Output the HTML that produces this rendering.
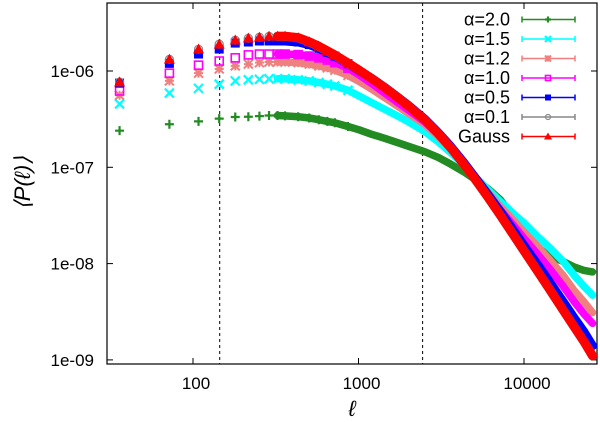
<!DOCTYPE html>
<html><head><meta charset="utf-8"><style>
html,body{margin:0;padding:0;background:#fff}
svg{display:block}
text{font-family:"Liberation Sans",sans-serif}
</style></head><body>
<svg id="chart" width="600" height="422" viewBox="0 0 600 422"></svg>
<script>
const ells=[36,72,108,144,180,216,252,288,324,360,432,504,576,648,720,864,1008,1200,1440,1728,2016,2520,3024,3600,4320,5040,6048,7200,8640,10080,12096,14400,17280,20160,23040,25920];
const alpha20=[2.4e-7,2.8e-7,3.0e-7,3.2e-7,3.33e-7,3.35e-7,3.4e-7,3.45e-7,3.45e-7,3.42e-7,3.35e-7,3.25e-7,3.12e-7,3.0e-7,2.9e-7,2.65e-7,2.45e-7,2.2e-7,2.0e-7,1.8e-7,1.65e-7,1.45e-7,1.27e-7,1.08e-7,9.0e-8,7.5e-8,6.0e-8,4.6e-8,3.0e-8,2.0e-8,1.45e-8,1.2e-8,1.05e-8,9.2e-9,8.5e-9,8.2e-9];
const alpha15=[4.55e-7,5.9e-7,6.6e-7,7.3e-7,7.9e-7,8.1e-7,8.2e-7,8.3e-7,8.3e-7,8.3e-7,8.1e-7,7.9e-7,7.6e-7,7.3e-7,7.0e-7,6.3e-7,5.5e-7,4.7e-7,4.0e-7,3.4e-7,2.95e-7,2.35e-7,1.85e-7,1.42e-7,1.07e-7,8.0e-8,5.9e-8,4.4e-8,3.3e-8,2.6e-8,1.9e-8,1.45e-8,1.05e-8,7.5e-9,5.8e-9,4.7e-9];
const alpha12=[5.6e-7,7.9e-7,9.5e-7,1.05e-6,1.13e-6,1.18e-6,1.22e-6,1.24e-6,1.24e-6,1.24e-6,1.22e-6,1.18e-6,1.13e-6,1.08e-6,1.02e-6,9.0e-7,7.8e-7,6.5e-7,5.3e-7,4.3e-7,3.6e-7,2.8e-7,2.1e-7,1.55e-7,1.1e-7,7.9e-8,5.5e-8,3.9e-8,2.8e-8,2.1e-8,1.5e-8,1.08e-8,7.5e-9,5.2e-9,4.0e-9,3.1e-9];
const alpha10=[6.2e-7,9.5e-7,1.15e-6,1.27e-6,1.37e-6,1.47e-6,1.5e-6,1.5e-6,1.5e-6,1.5e-6,1.48e-6,1.43e-6,1.37e-6,1.3e-6,1.22e-6,1.07e-6,9.1e-7,7.4e-7,5.9e-7,4.7e-7,3.9e-7,2.95e-7,2.2e-7,1.6e-7,1.12e-7,8.0e-8,5.3e-8,3.6e-8,2.5e-8,1.8e-8,1.25e-8,8.7e-9,5.8e-9,4.0e-9,3.0e-9,2.4e-9];
const alpha05=[7.5e-7,1.2e-6,1.5e-6,1.69e-6,1.95e-6,2.0e-6,2.05e-6,2.05e-6,2.05e-6,2.05e-6,2.0e-6,1.88e-6,1.72e-6,1.56e-6,1.43e-6,1.19e-6,1.01e-6,8.4e-7,6.75e-7,5.35e-7,4.35e-7,3.15e-7,2.3e-7,1.65e-7,1.12e-7,7.9e-8,5.2e-8,3.45e-8,2.2e-8,1.5e-8,9.7e-9,6.3e-9,4.0e-9,2.7e-9,1.95e-9,1.4e-9];
const alpha01=[7.7e-7,1.32e-6,1.68e-6,1.9e-6,2.09e-6,2.19e-6,2.24e-6,2.29e-6,2.29e-6,2.29e-6,2.21e-6,2.0e-6,1.8e-6,1.61e-6,1.46e-6,1.2e-6,1.02e-6,8.35e-7,6.7e-7,5.3e-7,4.3e-7,3.1e-7,2.25e-7,1.6e-7,1.08e-7,7.6e-8,4.9e-8,3.17e-8,1.98e-8,1.33e-8,8.3e-9,5.3e-9,3.27e-9,2.19e-9,1.55e-9,1.12e-9];
const gauss=[7.7e-7,1.33e-6,1.69e-6,1.9e-6,2.1e-6,2.2e-6,2.25e-6,2.3e-6,2.3e-6,2.3e-6,2.22e-6,2.01e-6,1.81e-6,1.62e-6,1.47e-6,1.21e-6,1.02e-6,8.36e-7,6.7e-7,5.3e-7,4.3e-7,3.1e-7,2.25e-7,1.6e-7,1.08e-7,7.6e-8,4.9e-8,3.17e-8,1.98e-8,1.33e-8,8.3e-9,5.3e-9,3.27e-9,2.19e-9,1.55e-9,1.1e-9];
const xTicks=[100,1000,10000];
const xTickLabels=["100","1000","10000"];
const yTicks=[1e-6,1e-7,1e-8,1e-9];
const yTickLabels=["1e-06","1e-07","1e-08","1e-09"];
const vLines=[145,2440];
const seriesNames=["α=2.0","α=1.5","α=1.2","α=1.0","α=0.5","α=0.1","Gauss"];

const L=107,R=597,T=3,B=364;
function xs(v){return 193+(Math.log10(v)-2)*165.5;}
function ys(v){return 71-(Math.log10(v)+6)*96.3;}
const NS="http://www.w3.org/2000/svg";
const svg=document.getElementById('chart');
function mk(tag,attrs,parent){const e=document.createElementNS(NS,tag);for(const k in attrs)e.setAttribute(k,attrs[k]);(parent||svg).appendChild(e);return e;}

const frame=mk('rect',{x:L,y:T,width:R-L,height:B-T,fill:'none',stroke:'#000','stroke-width':1.2});



xTicks.forEach((t,i)=>{const x=xs(t);
 const a=mk('line',{x1:x,y1:B,x2:x,y2:B-6,stroke:'#000'});
 
 
 const b=mk('line',{x1:x,y1:T,x2:x,y2:T+6,stroke:'#000'});
 
 
 const tx=mk('text',{x:x+3,y:389,'text-anchor':'middle','font-size':17});
 tx.textContent=xTickLabels[i];
 
 
});
yTicks.forEach((t,i)=>{const y=ys(t);
 const a=mk('line',{x1:L,y1:y,x2:L+6,y2:y,stroke:'#000'});
 
 
 const b=mk('line',{x1:R,y1:y,x2:R-6,y2:y,stroke:'#000'});
 
 
 const tx=mk('text',{x:94,y:y+6,'text-anchor':'end','font-size':17});
 tx.textContent=yTickLabels[i];
 
 
});
vLines.forEach(v=>{const x=xs(v);
 const l=mk('line',{x1:x,y1:T,x2:x,y2:B,stroke:'#000','stroke-width':1,'stroke-dasharray':'3,3'});
 
 
});

const colors=['#228b22','#00ffff','#f08080','#ff00ff','#0000ff','#888888','#ff0000'];
const datas=[alpha20,alpha15,alpha12,alpha10,alpha05,alpha01,gauss];
const kinds=['plus','x','star','sq','fsq','circ','tri'];
function marker(g,kind,x,y,c,s){
 s=s||4;
 if(kind==='plus'){mk('path',{d:`M${x-s} ${y}H${x+s}M${x} ${y-s}V${y+s}`,stroke:c,'stroke-width':2.2},g);}
 else if(kind==='x'){mk('path',{d:`M${x-s} ${y-s}L${x+s} ${y+s}M${x-s} ${y+s}L${x+s} ${y-s}`,stroke:c,'stroke-width':2.2},g);}
 else if(kind==='star'){mk('path',{d:`M${x-s} ${y-s}L${x+s} ${y+s}M${x-s} ${y+s}L${x+s} ${y-s}M${x-s} ${y}H${x+s}M${x} ${y-s}V${y+s}`,stroke:c,'stroke-width':2},g);}
 else if(kind==='sq'){mk('rect',{x:x-s+0.5,y:y-s+0.5,width:2*s-1,height:2*s-1,fill:'none',stroke:c,'stroke-width':1.6},g);}
 else if(kind==='fsq'){mk('rect',{x:x-s,y:y-s,width:2*s,height:2*s,fill:c},g);}
 else if(kind==='circ'){mk('circle',{cx:x,cy:y,r:s-0.5,fill:'none',stroke:c,'stroke-width':1.2},g);}
 else {mk('path',{d:`M${x} ${y-s-1}L${x+s+1} ${y+s}L${x-s-1} ${y+s}Z`,fill:c},g);}
}
datas.forEach((d,si)=>{
 const g=mk('g',{});
 
 
 const pts=[];
 for(let i=8;i<ells.length;i++)pts.push(xs(ells[i]).toFixed(1)+','+ys(d[i]).toFixed(1));
 mk('polyline',{points:pts.join(' '),fill:'none',stroke:colors[si],'stroke-width':si>=4?9:7.5,'stroke-linejoin':'round','stroke-linecap':'round'},g);
 ells.forEach((e,i)=>{ if(i<16) marker(g,kinds[si],xs(e),ys(d[i]),colors[si],4.5); });
});

const lg=mk('g',{});


seriesNames.forEach((n,i)=>{
 const y=19.5+i*19.5;
 const e=mk('g',{},lg);
 
 
 const t=mk('text',{x:510,y:y+6,'text-anchor':'end','font-size':18},e);
 t.textContent=n;
 mk('path',{d:`M522 ${y}H575M522 ${y-3}V${y+3}M575 ${y-3}V${y+3}`,stroke:colors[i],'stroke-width':1.5},e);
 marker(e,kinds[i],548,y,colors[i],3);
});

const yt=mk('text',{x:0,y:0,transform:'translate(30,183) rotate(-90)','text-anchor':'middle','font-size':22,'font-family':'Liberation Serif, serif'});
yt.textContent='⟨P(ℓ)⟩';
yt.setAttribute('font-style','italic');


const xt=mk('text',{x:352,y:416,'text-anchor':'middle','font-size':22,'font-family':'Liberation Serif, serif','font-style':'italic'});
xt.textContent='ℓ';


</script>
</body></html>
